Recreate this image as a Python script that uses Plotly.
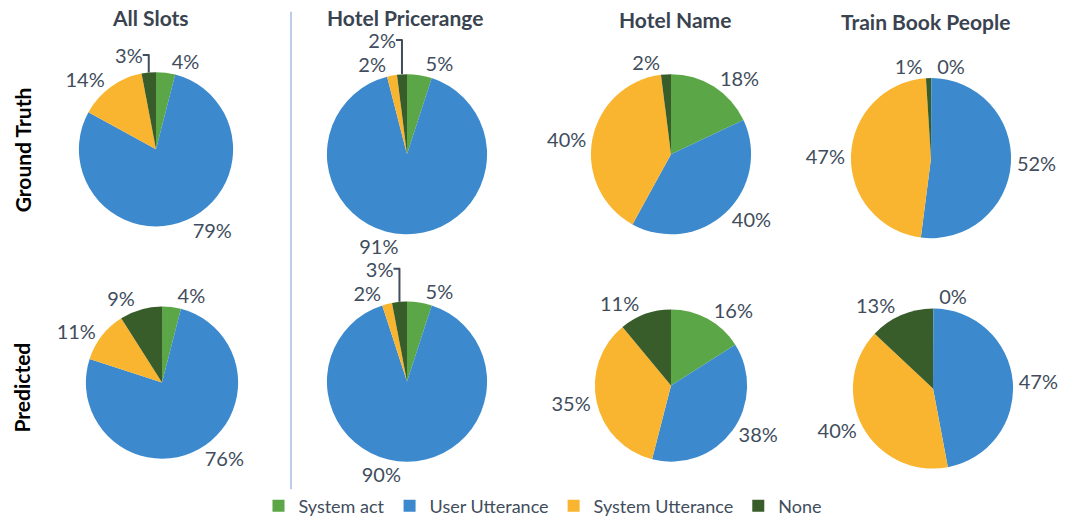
import plotly.graph_objects as go

W, H = 1085, 525

categories = ["System act", "User Utterance", "System Utterance", "None"]
colors = ["#5BA646", "#3C8ACD", "#F9B52F", "#385D2A"]

column_titles = ["All Slots", "Hotel Pricerange", "Hotel Name", "Train Book People"]
row_titles = ["Ground Truth", "Predicted"]

gt_all_slots = [4, 79, 14, 3]
gt_hotel_pricerange = [5, 91, 2, 2]
gt_hotel_name = [18, 40, 40, 2]
gt_train_book_people = [0, 52, 47, 1]

pred_all_slots = [4, 76, 11, 9]
pred_hotel_pricerange = [5, 90, 2, 3]
pred_hotel_name = [16, 38, 35, 11]
pred_train_book_people = [0, 47, 40, 13]

rows = [
    [gt_all_slots, gt_hotel_pricerange, gt_hotel_name, gt_train_book_people],
    [pred_all_slots, pred_hotel_pricerange, pred_hotel_name, pred_train_book_people],
]

# layout geometry (pixel centers and radii of the pies)
geom = [
    [(156, 151, 78), (407, 156, 81), (671, 156, 81), (931, 160, 81)],
    [(162, 387, 77), (407, 386, 81), (671, 390, 77), (933, 393, 81)],
]

TEXT = "#414D5C"
FONT = "Lato"

fig = go.Figure()
first = True
for ri, row in enumerate(rows):
    for ci, vals in enumerate(row):
        cx, cy, r = geom[ri][ci]
        draw_vals = [v if v > 0 else 0.05 for v in vals]
        fig.add_trace(go.Pie(
            labels=categories,
            values=draw_vals,
            text=[f"{v}%" for v in vals],
            textinfo="text",
            textposition="outside",
            sort=False,
            direction="clockwise",
            rotation=0,
            marker=dict(colors=colors, line=dict(width=0)),
            textfont=dict(size=20, color=TEXT, family=FONT),
            domain=dict(x=[(cx - r) / W, (cx + r) / W],
                        y=[1 - (cy + r) / H, 1 - (cy - r) / H]),
            showlegend=first,
            hoverinfo="label+text",
        ))
        first = False

annotations = []
title_x = [150, 405, 675, 925]
title_y = [18, 18, 20, 22]
for t, x, y in zip(column_titles, title_x, title_y):
    annotations.append(dict(text=f"<b>{t}</b>", x=x / W, y=1 - y / H, xref="paper", yref="paper",
                            showarrow=False, xanchor="center", yanchor="middle",
                            font=dict(size=21, color="#3A4350", family=FONT)))
row_y = [152, 392]
for t, y in zip(row_titles, row_y):
    annotations.append(dict(text=f"<b>{t}</b>", x=22 / W, y=1 - y / H, xref="paper", yref="paper",
                            showarrow=False, xanchor="center", yanchor="middle", textangle=-90,
                            font=dict(size=21, color="#000000", family=FONT)))

fig.update_layout(
    width=W, height=H,
    margin=dict(l=0, r=0, t=0, b=0),
    paper_bgcolor="white",
    plot_bgcolor="white",
    annotations=annotations,
    shapes=[dict(type="line", xref="paper", yref="paper",
                 x0=291 / W, x1=291 / W, y0=1 - 12 / H, y1=1 - 495 / H,
                 line=dict(color="#8DAEDB", width=1.2))],
    legend=dict(orientation="h", x=0.5, xanchor="center", y=1 - 512 / H, yanchor="middle",
                font=dict(size=18, color=TEXT, family=FONT), traceorder="normal",
                itemwidth=30, bgcolor="rgba(0,0,0,0)"),
)

fig.write_html("out.html")
